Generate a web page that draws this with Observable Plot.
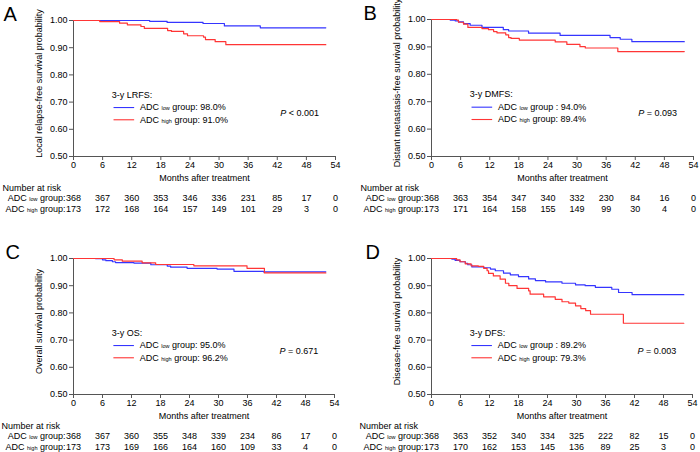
<!DOCTYPE html>
<html><head><meta charset="utf-8">
<script src="https://cdn.jsdelivr.net/npm/d3@7"></script>
<script src="https://cdn.jsdelivr.net/npm/@observablehq/plot@0.6"></script>
<style>
body{margin:0;background:#fff;}
#chart{position:relative;width:700px;height:452px;font-family:"Liberation Sans",Arial,sans-serif;background:#fff;}
#chart svg{position:absolute;}
</style>
</head><body><div id="chart"></div>
<script>
// ---------- shared axis values ----------
const months = [0, 6, 12, 18, 24, 30, 36, 42, 48, 54];
const yTicks = [0.5, 0.6, 0.7, 0.8, 0.9, 1.0];

// ---------- A: LRFS ----------
const lrfsLowT  = [0, 15.7, 19.3, 26.7, 31.1, 38.5, 52];
const lrfsLowS  = [1, 0.997, 0.993, 0.989, 0.980, 0.973, 0.973];
const lrfsHighT = [0, 5.4, 9.5, 11.1, 13.9, 14.6, 19.4, 20.2, 22.7, 23.5, 26.8, 27.2, 29.2, 31.4, 52];
const lrfsHighS = [1, 0.996, 0.990, 0.984, 0.978, 0.971, 0.963, 0.960, 0.951, 0.944, 0.939, 0.930, 0.922, 0.911, 0.911];
const lrfsRiskLow  = [368, 367, 360, 353, 346, 336, 231, 85, 17, 0];
const lrfsRiskHigh = [173, 172, 168, 164, 157, 149, 101, 29, 3, 0];

// ---------- B: DMFS ----------
const dmfsLowT  = [0, 3.85, 4.88, 5.56, 6.6, 7.97, 10.4, 14.8, 15.9, 20, 26.5, 36.8, 38.9, 41.3, 52.1];
const dmfsLowS  = [1, 0.998, 0.995, 0.991, 0.985, 0.979, 0.971, 0.963, 0.958, 0.950, 0.942, 0.934, 0.928, 0.919, 0.919];
const dmfsHighT = [0, 5.2, 5.56, 6.6, 7.5, 10.4, 11.75, 12.8, 13.5, 15.3, 15.9, 16.4, 18.1, 25.5, 27.9, 30.6, 31.7, 38.4, 52.1];
const dmfsHighS = [1, 0.998, 0.990, 0.983, 0.971, 0.967, 0.963, 0.956, 0.951, 0.944, 0.934, 0.931, 0.925, 0.918, 0.909, 0.901, 0.896, 0.883, 0.883];
const dmfsRiskLow  = [368, 363, 354, 347, 340, 332, 230, 84, 16, 0];
const dmfsRiskHigh = [173, 171, 164, 158, 155, 149, 99, 30, 4, 0];

// ---------- C: OS ----------
const osLowT  = [0, 4.6, 6.0, 6.7, 8.05, 8.7, 12.5, 16, 19.4, 20.1, 23.5, 29.7, 33.2, 39.3, 52.2];
const osLowS  = [1, 0.999, 0.995, 0.992, 0.988, 0.985, 0.983, 0.977, 0.972, 0.968, 0.964, 0.961, 0.953, 0.951, 0.951];
const osHighT = [0, 8.4, 10.1, 14.2, 17, 24.9, 35.9, 39.5, 52.2];
const osHighS = [1, 0.995, 0.990, 0.984, 0.978, 0.973, 0.964, 0.947, 0.947];
const osRiskLow  = [368, 367, 360, 355, 348, 339, 234, 86, 17, 0];
const osRiskHigh = [173, 173, 169, 166, 164, 160, 109, 33, 4, 0];

// ---------- D: DFS ----------
const dfsLowT  = [0, 4.2, 4.9, 5.9, 7.0, 7.5, 8.35, 10.8, 12.2, 13.2, 14.9, 16.3, 18, 20.1, 21.5, 23.6, 27, 29.8, 31.8, 33.9, 37.3, 38.7, 41.5, 52.2];
const dfsLowS  = [1, 0.998, 0.993, 0.988, 0.982, 0.977, 0.969, 0.966, 0.961, 0.955, 0.946, 0.940, 0.933, 0.925, 0.919, 0.914, 0.909, 0.903, 0.900, 0.894, 0.887, 0.875, 0.867, 0.867];
const dfsHighT = [0, 5.2, 5.9, 7.0, 8.2, 9.7, 10.8, 11.5, 11.8, 12.8, 14.2, 15.3, 16, 17.7, 20.1, 20.4, 23.2, 25.6, 27, 28.4, 29.8, 30.9, 31.9, 32.9, 39.7, 52.2];
const dfsHighS = [1, 0.995, 0.988, 0.980, 0.973, 0.971, 0.964, 0.955, 0.945, 0.936, 0.924, 0.909, 0.900, 0.890, 0.881, 0.869, 0.859, 0.850, 0.841, 0.836, 0.826, 0.816, 0.808, 0.795, 0.762, 0.762];
const dfsRiskLow  = [368, 363, 352, 340, 334, 325, 222, 82, 15, 0];
const dfsRiskHigh = [173, 170, 162, 153, 145, 136, 89, 25, 3, 0];

// ---------- texts ----------
const panelLetters = ["A", "B", "C", "D"];
const yTitles = ["Local relapse-free survival probability", "Distant metastasis-free survival probability",
                 "Overall survival probability", "Disease-free survival probability"];
const legendTitles = ["3-y LRFS:", "3-y DMFS:", "3-y OS:", "3-y DFS:"];
const legendLow  = ["ADC low group: 98.0%", "ADC low group : 94.0%", "ADC low group: 95.0%", "ADC low group : 89.2%"];
const legendHigh = ["ADC high group: 91.0%", "ADC high group: 89.4%", "ADC high group: 96.2%", "ADC high group: 79.3%"];
const pTexts = ["P < 0.001", "P = 0.093", "P = 0.671", "P = 0.003"];
const xTitle = "Months after treatment";
const riskTitle = "Number at risk";
const riskLabels = ["ADC low group:", "ADC high group:"];

const BLUE = "#3535ff", RED = "#ff3535", AXIS = "#555";
const FONT = '"Liberation Sans", Arial, sans-serif';

const steps = (t, s) => t.map((x, i) => ({x, y: s[i]}));

const panels = [
  {low: steps(lrfsLowT, lrfsLowS), high: steps(lrfsHighT, lrfsHighS), rl: lrfsRiskLow, rh: lrfsRiskHigh,
   left: 0, top: 0, ml: 73, mr: 15, mt: 20, mb: 70, letterX: 3, nrX: 2},
  {low: steps(dmfsLowT, dmfsLowS), high: steps(dmfsHighT, dmfsHighS), rl: dmfsRiskLow, rh: dmfsRiskHigh,
   left: 350, top: 0, ml: 81, mr: 7, mt: 19, mb: 70, letterX: 13, nrX: 10},
  {low: steps(osLowT, osLowS), high: steps(osHighT, osHighS), rl: osRiskLow, rh: osRiskHigh,
   left: 0, top: 226, ml: 73, mr: 16, mt: 32, mb: 58, letterX: 5, nrX: 1},
  {low: steps(dfsLowT, dfsLowS), high: steps(dfsHighT, dfsHighS), rl: dfsRiskLow, rh: dfsRiskHigh,
   left: 350, top: 226, ml: 81, mr: 8, mt: 32, mb: 58, letterX: 15, nrX: 9}
];

function decorate(svg) {
  d3.select(svg).selectAll("text").each(function () {
    const t = this.textContent;
    let m;
    if ((m = t.match(/^ADC (low|high)( .*)$/))) {
      const s = d3.select(this);
      s.text(null);
      s.append("tspan").text("ADC ");
      s.append("tspan").attr("font-size", 5.5).text(m[1]);
      s.append("tspan").text(m[2]);
    } else if ((m = t.match(/^P( [<=] .*)$/))) {
      const s = d3.select(this);
      s.text(null);
      s.append("tspan").attr("font-style", "italic").text("P");
      s.append("tspan").text(m[1]);
    }
  });
}

const chart = document.getElementById("chart");
panels.forEach((p, i) => {
  const riskRow = (arr) => months.map((m, k) => ({m, n: String(arr[k])}));
  const svg = Plot.plot({
    width: 350, height: 226,
    marginLeft: p.ml, marginRight: p.mr, marginTop: p.mt, marginBottom: p.mb,
    style: {fontFamily: FONT, fontSize: "9px", color: "#000", background: "transparent", overflow: "visible"},
    x: {domain: [0, 54]},
    y: {domain: [0.5, 1]},
    marks: [
      Plot.axisX({ticks: months, tickSize: 4, tickPadding: 1, tickFormat: d => String(d), label: null, stroke: AXIS}),
      Plot.axisY({ticks: yTicks, tickSize: 4, tickPadding: 2, tickFormat: d3.format(".2f"), label: null, stroke: AXIS}),
      Plot.ruleX([0], {stroke: AXIS}),
      Plot.ruleY([0.5], {stroke: AXIS}),
      Plot.line(p.low, {x: "x", y: "y", curve: "step-after", stroke: BLUE, strokeWidth: 1.2}),
      Plot.line(p.high, {x: "x", y: "y", curve: "step-after", stroke: RED, strokeWidth: 1.2}),
      // legend
      Plot.text([legendTitles[i]], {x: () => 7.9, y: () => 0.727, text: d => d, textAnchor: "start", lineAnchor: "middle"}),
      Plot.link([{x1: 8.25, x2: 12.5, y: 0.680}], {x1: "x1", x2: "x2", y1: "y", y2: "y", stroke: BLUE, strokeWidth: 1.1}),
      Plot.link([{x1: 8.25, x2: 12.5, y: 0.635}], {x1: "x1", x2: "x2", y1: "y", y2: "y", stroke: RED, strokeWidth: 1.1}),
      Plot.text([{x: 13.7, y: 0.680, t: legendLow[i]}, {x: 13.7, y: 0.635, t: legendHigh[i]}],
        {x: "x", y: "y", text: "t", textAnchor: "start", lineAnchor: "middle"}),
      Plot.text([{x: 42.6, y: 0.66, t: pTexts[i]}], {x: "x", y: "y", text: "t", textAnchor: "start", lineAnchor: "middle"}),
      // titles
      Plot.text([panelLetters[i]], {text: d => d, frameAnchor: "top-left", dx: p.letterX - p.ml, textAnchor: "start", lineAnchor: "bottom", fontSize: 20}),
      Plot.text([yTitles[i]], {text: d => d, frameAnchor: "left", rotate: -90, dx: -34, dy: -5, textAnchor: "middle", lineAnchor: "middle"}),
      Plot.text([{m: 27, t: xTitle}], {x: "m", text: "t", frameAnchor: "bottom", dy: 22, lineAnchor: "middle"}),
      // number at risk
      Plot.text([riskTitle], {text: d => d, frameAnchor: "bottom-left", dx: p.nrX - p.ml, dy: 32, textAnchor: "start", lineAnchor: "middle"}),
      Plot.text([{m: 0, t: riskLabels[0]}], {x: "m", text: "t", frameAnchor: "bottom", dx: -8, dy: 42, textAnchor: "end", lineAnchor: "middle"}),
      Plot.text([{m: 0, t: riskLabels[1]}], {x: "m", text: "t", frameAnchor: "bottom", dx: -8, dy: 53, textAnchor: "end", lineAnchor: "middle"}),
      Plot.text(riskRow(p.rl), {x: "m", text: "n", frameAnchor: "bottom", dy: 42, lineAnchor: "middle"}),
      Plot.text(riskRow(p.rh), {x: "m", text: "n", frameAnchor: "bottom", dy: 53, lineAnchor: "middle"})
    ]
  });
  svg.style.left = p.left + "px";
  svg.style.top = p.top + "px";
  decorate(svg);
  chart.appendChild(svg);
});
</script>
</body></html>
